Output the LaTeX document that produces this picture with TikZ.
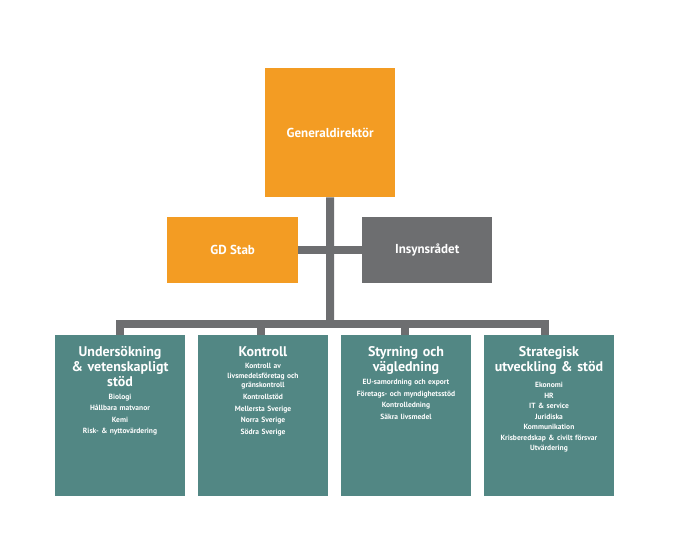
\documentclass[tikz,border=0pt]{standalone}
\usepackage{fontspec}
\setmainfont{PT Sans}
\usetikzlibrary{positioning}
\definecolor{org}{HTML}{F39C23}
\definecolor{gry}{HTML}{6D6E70}
\definecolor{tea}{HTML}{528784}
\begin{document}
\begin{tikzpicture}[x=1pt,y=-1pt,
  conn/.style={draw=gry,line width=8pt},
  box/.style={draw=none,minimum width=130pt,anchor=north west,inner sep=0pt},
  ttl/.style={anchor=north,text=white,font=\bfseries\fontsize{14}{15}\selectfont,align=center,text width=126pt},
  itm/.style={anchor=north,text=white,font=\bfseries\fontsize{7.5}{11.5}\selectfont,align=center,text width=126pt}]
\useasboundingbox (0,0) rectangle (675,551);
\coordinate (bl) at (120,324); \coordinate (br) at (545,324);
\coordinate (bc) at (330,324);
\coordinate (c2) at (261,324); \coordinate (c3) at (405,324);
\node[box,fill=org,minimum height=129pt] (gd) at (265,68) {};
\node[box,fill=org,minimum width=131pt,minimum height=66pt] (stab) at (167,217) {};
\node[box,fill=gry,minimum height=66pt] (ins) at (362,217) {};
\node[box,fill=tea,minimum height=161pt] (b1) at (55,335) {};
\node[box,fill=tea,minimum height=161pt] (b2) at (198,335) {};
\node[box,fill=tea,minimum height=161pt] (b3) at (341,335) {};
\node[box,fill=tea,minimum height=161pt] (b4) at (484,335) {};
\draw[conn] (gd.south) -- (bc);
\draw[conn] (stab.east) -- (ins.west);
\draw[conn,line cap=rect] (bl) -- (br);
\draw[conn] (bl) -- (b1.north -| bl);
\draw[conn] (c2) -- (b2.north -| c2);
\draw[conn] (c3) -- (b3.north -| c3);
\draw[conn] (br) -- (b4.north -| br);
\fill[org] (265,68) rectangle (395,197);
\fill[org] (167,217) rectangle (298,283);
\fill[gry] (362,217) rectangle (492,283);
\foreach \x in {55,198,341,484} \fill[tea] (\x,335) rectangle (\x+130,496);
\node[text=white,font=\bfseries\fontsize{13}{15}\selectfont] (gdt) at (gd.center) {Generaldirektör};
\node[text=white,font=\bfseries\fontsize{13}{15}\selectfont] (stabt) at (stab.center) {GD Stab};
\node[text=white,font=\bfseries\fontsize{13}{15}\selectfont] (inst) at (ins.center) {Insynsrådet};
\node[ttl] (t1) at (120,343) {Undersökning\\\& vetenskapligt\\stöd};
\node[itm,below=0pt of t1] (i1) {Biologi\\Hållbara matvanor\\Kemi\\Risk- \& nyttovärdering};
\node[ttl] (t2) at (263,343) {Kontroll};
\node[itm,below=0pt of t2,font=\bfseries\fontsize{7.5}{9.5}\selectfont] (i2a) {Kontroll av\\livsmedelsföretag och\\gränskontroll};
\node[itm,below=-2pt of i2a] (i2) {Kontrollstöd\\Mellersta Sverige\\Norra Sverige\\Södra Sverige};
\node[ttl] (t3) at (406,343) {Styrning och\\vägledning};
\node[itm,below=-2pt of t3] (i3) {EU-samordning och export\\Företags- och myndighetsstöd\\Kontrolledning\\Säkra livsmedel};
\node[ttl] (t4) at (549,343) {Strategisk\\utveckling \& stöd};
\node[itm,below=1pt of t4,font=\bfseries\fontsize{7.5}{10.5}\selectfont] (i4) {Ekonomi\\HR\\IT \& service\\Juridiska\\Kommunikation\\Krisberedskap \& civilt försvar\\Utvärdering};
\end{tikzpicture}
\end{document}
